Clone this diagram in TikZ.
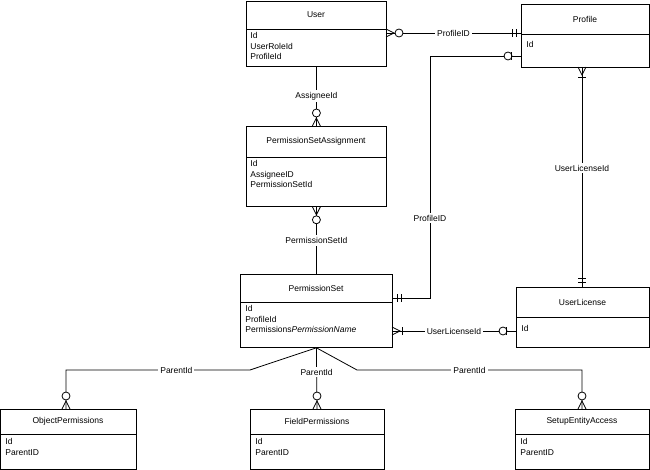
\documentclass[tikz,border=0pt]{standalone}
\usepackage{fontspec}
\setmainfont{Liberation Sans}
\begin{document}
\begin{tikzpicture}[x=1pt,y=-1pt,line width=0.8pt,font=\fontsize{8.5}{10.5}\selectfont,
 box/.style={draw,minimum width=#1,inner sep=0pt,anchor=north west},
 lbl/.style={fill=white,inner sep=2pt},
 attr/.style={anchor=north west,align=left,inner sep=0pt},
 pics/many/.style={code={\draw (0,-4)--(8,0)--(0,4);}},
 pics/zero/.style={code={\draw[fill=white] (13,0) circle (4);}},
 pics/one/.style={code={\draw (10,-4)--(10,4);}},
 pics/two/.style={code={\draw (5,-4)--(5,4) (9,-4)--(9,4);}}]
\useasboundingbox (0,0) rectangle (650,470);
% entities
\newcommand\ent[7]{% name, x1,y1,x2,y2,divider y, title, attrs
 \node[draw,minimum width=#4-#2,minimum height=#5-#3,anchor=north west,inner sep=0pt] (#1) at (#2,#3) {};
 \draw (#2,#6) -- (#4,#6);
 \node at ({(#2+#4)/2},{(#3+#6)/2}) {#7};}
\ent{user}{246}{1}{386}{66}{29}{User}
\node[attr] at (250,32) {Id\\UserRoleId\\ProfileId};
\ent{profile}{521}{4}{649}{67}{34}{Profile}
\node[attr] at (526,41) {Id};
\ent{psa}{246}{126}{386}{206}{157}{PermissionSetAssignment}
\node[attr] at (250,160) {Id\\AssigneeID\\PermissionSetId};
\ent{ps}{240}{274}{392}{347}{302}{PermissionSet}
\node[attr] at (245,305) {Id\\ProfileId\\Permissions\textit{PermissionName}};
\ent{ul}{516}{287}{649}{347}{317}{UserLicense}
\node[attr] at (521,325) {Id};
\ent{op}{0}{409}{136}{469}{434}{ObjectPermissions}
\node[attr] at (5,438) {Id\\ParentID};
\ent{fp}{250}{409}{384}{469}{434}{FieldPermissions}
\node[attr] at (255,438) {Id\\ParentID};
\ent{sea}{515}{409}{649}{469}{434}{SetupEntityAccess}
\node[attr] at (520,438) {Id\\ParentID};
% connectors
\coordinate (a1) at (386,33); \coordinate (a2) at (521,33);
\draw (a1) -- node[lbl]{ProfileID} (a2);
\pic at (a1) {many}; \pic at (a1) {zero}; \pic[rotate=180] at (a2) {two};

\draw (user.south) -- node[lbl]{AssigneeId} (psa.north);
\pic[rotate=90] at (psa.north) {many}; \pic[rotate=90] at (psa.north) {zero};

\draw (psa.south) -- node[lbl]{PermissionSetId} (ps.north);
\pic[rotate=-90] at (psa.south) {many}; \pic[rotate=-90] at (psa.south) {zero};

\coordinate (b1) at (392,298); \coordinate (b2) at (521,56);
\draw (b1) -- (430,298) -- node[lbl,pos=0.33]{ProfileID} (430,56) -- (b2);
\pic at (b1) {two}; \pic[rotate=180] at (b2) {zero}; \pic[rotate=180] at (b2) {one};

\coordinate (c1) at (582,67); \coordinate (c2) at (582,287);
\draw (c1) -- node[lbl,pos=0.46]{UserLicenseId} (c2);
\pic[rotate=-90] at (c1) {many}; \pic[rotate=-90] at (c1) {one}; \pic[rotate=90] at (c2) {two};

\coordinate (d1) at (392,331); \coordinate (d2) at (516,331);
\draw (d1) -- node[lbl]{UserLicenseId} (d2);
\pic at (d1) {many}; \pic at (d1) {one}; \pic[rotate=180] at (d2) {zero}; \pic[rotate=180] at (d2) {one};

\coordinate (e1) at (66,409); \coordinate (e2) at (317,409); \coordinate (e3) at (582,409);
\draw (ps.south) -- (250,370) -- node[lbl,pos=0.4]{ParentId} (66,370) -- (e1);
\draw (ps.south) -- node[lbl,pos=0.4]{ParentId} (e2);
\draw (ps.south) -- (357,370) -- node[lbl,pos=0.5]{ParentId} (582,370) -- (e3);
\foreach \p in {e1,e2,e3}{\pic[rotate=90] at (\p) {many}; \pic[rotate=90] at (\p) {zero};}
\end{tikzpicture}
\end{document}
